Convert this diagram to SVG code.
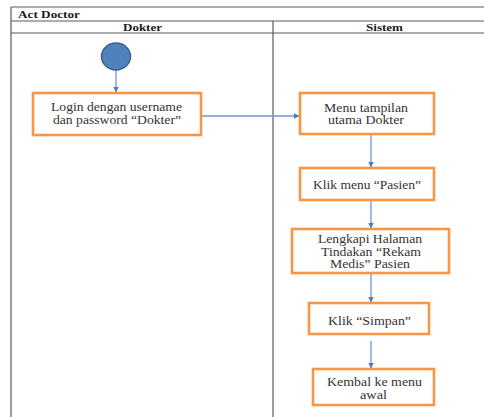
<svg xmlns="http://www.w3.org/2000/svg" width="484" height="417" viewBox="0 0 484 417">
  <style>
    .frame { stroke: #5a5a5a; stroke-width: 1.2; fill: none; }
    .box { fill: #ffffff; stroke: #f79646; stroke-width: 2.6; }
    .lbl { font-family: "Liberation Serif", "Times New Roman", serif; font-size: 11.5px; fill: #333333; text-anchor: start; }
    .hdr { font-family: "Liberation Serif", "Times New Roman", serif; font-size: 11px; font-weight: bold; fill: #1a1a1a; }
    .flow { stroke: #6b98d2; stroke-width: 1.3; fill: none; marker-end: url(#tip); }
  </style>
  <defs>
    <marker id="tip" markerWidth="6" markerHeight="6" refX="5" refY="3" orient="auto" markerUnits="userSpaceOnUse">
      <path d="M0,0.3 L5.5,3 L0,5.7 Z" fill="#4a7ebb"/>
    </marker>
  </defs>

  <rect width="484" height="417" fill="#ffffff"/>

  <!-- swimlane frame -->
  <g id="frame">
    <line class="frame" x1="11" y1="7" x2="484" y2="7"/>
    <line class="frame" x1="11" y1="21" x2="484" y2="21"/>
    <line class="frame" x1="11" y1="33" x2="484" y2="33"/>
    <line class="frame" x1="11" y1="7" x2="11" y2="417"/>
    <line class="frame" x1="273" y1="21" x2="273" y2="417"/>
    <text class="hdr" x="18" y="18" textLength="62" lengthAdjust="spacingAndGlyphs">Act Doctor</text>
    <text class="hdr" x="123" y="31" textLength="39" lengthAdjust="spacingAndGlyphs">Dokter</text>
    <text class="hdr" x="366" y="31" textLength="37" lengthAdjust="spacingAndGlyphs">Sistem</text>
  </g>

  <!-- connectors -->
  <g id="connectors">
    <line class="flow" x1="116" y1="70" x2="116" y2="92"/>
    <line class="flow" x1="201" y1="116" x2="299" y2="116"/>
    <line class="flow" x1="371" y1="134" x2="371" y2="167"/>
    <line class="flow" x1="371" y1="200" x2="371" y2="228"/>
    <line class="flow" x1="371" y1="273" x2="371" y2="302"/>
    <line class="flow" x1="371" y1="341" x2="371" y2="368"/>
  </g>

  <g id="start">
    <ellipse cx="116" cy="56.5" rx="14.5" ry="13.5" fill="#4f81bd" stroke="#3a6291" stroke-width="1.5"/>
  </g>

  <g id="login">
    <rect class="box" x="33" y="93" width="168" height="42"/>
    <text class="lbl" x="51" y="110.5" textLength="131" lengthAdjust="spacingAndGlyphs">Login dengan username</text>
    <text class="lbl" x="53" y="123.5" textLength="128" lengthAdjust="spacingAndGlyphs">dan password “Dokter”</text>
  </g>

  <g id="menu-utama">
    <rect class="box" x="300" y="93" width="134" height="41"/>
    <text class="lbl" x="324" y="111.5" textLength="84" lengthAdjust="spacingAndGlyphs">Menu tampilan</text>
    <text class="lbl" x="328" y="124.3" textLength="76" lengthAdjust="spacingAndGlyphs">utama Dokter</text>
  </g>

  <g id="klik-pasien">
    <rect class="box" x="300" y="168" width="134" height="32"/>
    <text class="lbl" x="313" y="189.3" textLength="108" lengthAdjust="spacingAndGlyphs">Klik menu “Pasien”</text>
  </g>

  <g id="rekam-medis">
    <rect class="box" x="292" y="229" width="157" height="44"/>
    <text class="lbl" x="318" y="243" textLength="104" lengthAdjust="spacingAndGlyphs">Lengkapi Halaman</text>
    <text class="lbl" x="321" y="255.7" textLength="100" lengthAdjust="spacingAndGlyphs">Tindakan “Rekam</text>
    <text class="lbl" x="330" y="268.3" textLength="80" lengthAdjust="spacingAndGlyphs">Medis” Pasien</text>
  </g>

  <g id="klik-simpan">
    <rect class="box" x="309" y="303" width="120" height="31"/>
    <text class="lbl" x="328" y="325" textLength="83" lengthAdjust="spacingAndGlyphs">Klik “Simpan”</text>
  </g>

  <g id="kembali">
    <rect class="box" x="313" y="369" width="121" height="36"/>
    <text class="lbl" x="327" y="386" textLength="95" lengthAdjust="spacingAndGlyphs">Kembal ke menu</text>
    <text class="lbl" x="360" y="398.5" textLength="27" lengthAdjust="spacingAndGlyphs">awal</text>
  </g>
</svg>
